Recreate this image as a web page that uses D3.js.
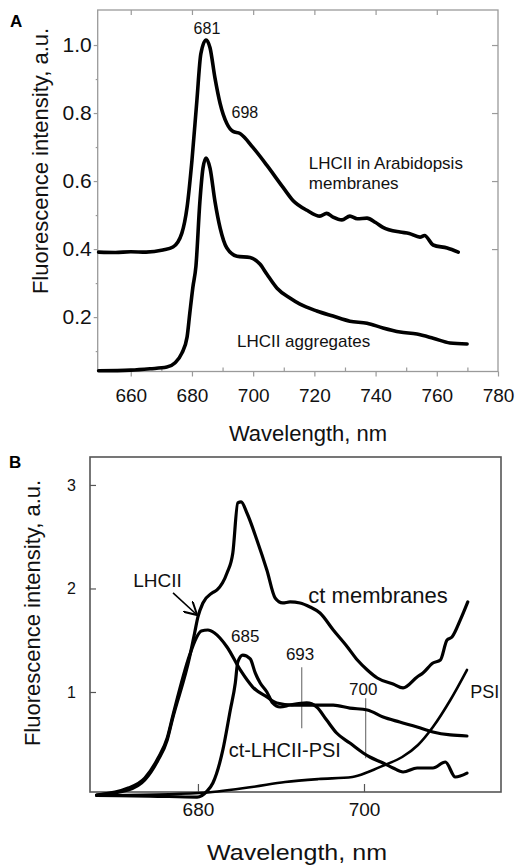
<!DOCTYPE html>
<html>
<head>
<meta charset="utf-8">
<script src="https://cdn.jsdelivr.net/npm/d3@7/dist/d3.min.js"></script>
<style>
  body { margin: 0; background: #fff; }
  svg { display: block; font-family: Arial, "Liberation Sans", sans-serif; }
  .frame { fill: none; }
  .curve { fill: none; stroke: #000; stroke-linejoin: round; stroke-linecap: round; }
  .axis path.domain { display: none; }
</style>
</head>
<body>
<div id="chart"></div>
<script>
// panel A: LHCII fluorescence, [wavelength nm, intensity]
var lhciiMembranes = [
  [649.5,0.391],[655,0.390],[660,0.392],[665,0.391],[670.5,0.397],[673.8,0.406],[676.7,0.447],
  [678.4,0.523],[680.0,0.661],[681.6,0.836],[682.9,0.974],[684.6,1.015],[685.9,0.992],
  [687.5,0.904],[689.2,0.828],[691.4,0.769],[693.4,0.746],[695.7,0.740],[699.9,0.699],
  [704.5,0.646],[709.7,0.582],[713.0,0.543],[717.6,0.514],[721.8,0.497],[724,0.505],[726.1,0.494],
  [729,0.486],[731.6,0.497],[734,0.489],[737.2,0.491],[740,0.478],[742.4,0.464],[748.0,0.450],
  [751,0.446],[754.5,0.435],[756,0.440],[758.8,0.412],[763.4,0.403],[767.0,0.391]
];
var lhciiAggregates = [
  [649.5,0.042],[660,0.044],[666.3,0.048],[671.8,0.053],[674.4,0.065],[676.7,0.094],[678.4,0.141],
  [679.3,0.212],[680.3,0.288],[681.3,0.350],[682.6,0.541],[683.6,0.638],[684.6,0.668],
  [685.9,0.638],[687.5,0.541],[689.2,0.462],[691.4,0.403],[694.7,0.379],[699.0,0.375],
  [702.2,0.356],[704.5,0.326],[707.8,0.285],[712.0,0.256],[715.3,0.238],[720.8,0.218],
  [726.1,0.203],[731.6,0.188],[737.2,0.182],[742.4,0.168],[748.0,0.156],[753.5,0.150],
  [758.8,0.138],[764.3,0.124],[769.9,0.121]
];
var aXTicks = [660, 680, 700, 720, 740, 760, 780];
var aXMinor = [670, 690, 710, 730, 750, 770];
var aYTicks = [0.2, 0.4, 0.6, 0.8, 1.0];
var aYMinor = [0.1, 0.3, 0.5, 0.7, 0.9];

// panel B: chloroplast spectra
var ctMembranes = [
  [667.8,0.005],[671.6,0.053],[673.6,0.150],[675.2,0.343],[676.3,0.536],[676.9,0.729],
  [679.0,1.338],[679.6,1.570],[680.0,1.725],[680.6,1.860],[681.7,1.957],[682.3,1.986],
  [683.5,2.150],[684.2,2.343],[684.8,2.826],[685.2,2.836],[685.9,2.729],[687.1,2.469],
  [688.3,2.179],[689.3,1.908],[690.2,1.860],[691.1,1.870],[692.3,1.860],[693.5,1.821],
  [694.7,1.763],[696.3,1.599],[698.0,1.435],[699.2,1.309],[700.4,1.213],[701.6,1.135],
  [703.5,1.077],[704.7,1.039],[706.4,1.145],[707.1,1.184],[708.3,1.280],[709.2,1.309],
  [710.0,1.502],[710.6,1.531],[711.6,1.696],[712.5,1.870]
];
var lhcii = [
  [667.8,0.005],[671.6,0.072],[673.6,0.169],[675.2,0.362],[676.3,0.556],[677.0,0.778],
  [679.0,1.357],[679.8,1.522],[680.4,1.589],[681.2,1.599],[682.0,1.570],[683.5,1.435],
  [685.1,1.213],[686.6,1.048],[688.3,0.952],[689.5,0.894],[691.4,0.874],[694.7,0.874],
  [696.3,0.874],[698.3,0.845],[700.4,0.826],[702.3,0.758],[704.3,0.710],[706.4,0.662],
  [708.3,0.614],[710.4,0.585],[712.4,0.575]
];
var ctLhciiPsi = [
  [667.8,0.0],[674.2,-0.005],[679.9,-0.015],[681.1,0.043],[681.8,0.121],[683.0,0.440],
  [683.9,0.826],[684.5,1.087],[684.8,1.290],[685.4,1.357],[686.3,1.319],[686.9,1.184],
  [687.5,1.087],[688.3,1.000],[689.0,0.894],[689.9,0.855],[691.1,0.874],[693.1,0.894],
  [694.3,0.855],[695.5,0.729],[696.7,0.604],[698.3,0.507],[699.9,0.411],[700.7,0.372],
  [702.3,0.314],[703.5,0.266],[704.7,0.227],[706.4,0.266],[708.3,0.266],[709.8,0.324],
  [711.0,0.179],[712.4,0.217]
];
var psi = [
  [667.8,0.0],[680.2,0.024],[686.5,0.082],[690.5,0.130],[694.5,0.159],[698.6,0.179],
  [700.5,0.227],[702.5,0.295],[704.6,0.372],[706.5,0.488],[708.3,0.662],[710.4,0.923],
  [712.4,1.213]
];
var bXTicks = [680, 700];
var bYTicks = [1, 2, 3];
var bMarkers = [
  {wl: 692.5, lo: 0.65, hi: 1.24},
  {wl: 700.2, lo: 0.36, hi: 0.94}
];

var width = 521, height = 865;
var svg = d3.select('#chart').append('svg')
  .attr('width', width)
  .attr('height', height);

var line = function(x, y) {
  return d3.line()
    .curve(d3.curveMonotoneX)
    .x(function(d) { return x(d[0]); })
    .y(function(d) { return y(d[1]); });
};

// ---------- panel A ----------
var xA = d3.scaleLinear().domain([649.2, 780]).range([97.7, 498]);
var yA = d3.scaleLinear().domain([0.04, 1.103]).range([371.5, 10]);
var gA = svg.append('g');

gA.append('rect').attr('class', 'frame')
  .attr('x', xA.range()[0]).attr('y', yA.range()[1])
  .attr('width', xA.range()[1] - xA.range()[0])
  .attr('height', yA.range()[0] - yA.range()[1])
  .attr('stroke', '#9a9a9a').attr('stroke-width', 1.3);

function styleAxis(g, color) {
  g.selectAll('.tick line').attr('stroke', color).attr('stroke-width', 1.2);
  g.selectAll('.tick text').attr('fill', '#111');
}

// bottom: labelled major ticks crossing the frame, minor ticks inside
gA.append('g').attr('class', 'axis')
  .attr('transform', 'translate(0,' + yA.range()[0] + ')')
  .call(d3.axisBottom(xA).tickValues(aXTicks).tickSize(5).tickPadding(12))
  .call(function(g) {
    g.selectAll('text').attr('font-size', 19);
    styleAxis(g, '#9a9a9a');
  });
gA.append('g').attr('class', 'axis')
  .attr('transform', 'translate(0,' + yA.range()[0] + ')')
  .call(d3.axisBottom(xA).tickValues(aXMinor).tickSize(-4).tickFormat(''))
  .call(function(g) { styleAxis(g, '#9a9a9a'); });
gA.append('g').attr('class', 'axis')
  .attr('transform', 'translate(0,' + yA.range()[1] + ')')
  .call(d3.axisTop(xA).tickValues(aXTicks.slice(0, 6)).tickSize(-5).tickFormat(''))
  .call(function(g) { styleAxis(g, '#9a9a9a'); });

// left + right
gA.append('g').attr('class', 'axis')
  .attr('transform', 'translate(' + xA.range()[0] + ',0)')
  .call(d3.axisLeft(yA).tickValues(aYTicks).tickSize(4).tickPadding(2).tickFormat(d3.format('.1f')))
  .call(function(g) {
    g.selectAll('text').attr('font-size', 21);
    styleAxis(g, '#9a9a9a');
  });
gA.append('g').attr('class', 'axis')
  .attr('transform', 'translate(' + xA.range()[0] + ',0)')
  .call(d3.axisLeft(yA).tickValues(aYMinor).tickSize(2).tickFormat(''))
  .call(function(g) { styleAxis(g, '#9a9a9a'); });
gA.append('g').attr('class', 'axis')
  .attr('transform', 'translate(' + xA.range()[1] + ',0)')
  .call(d3.axisRight(yA).tickValues(aYTicks.slice(1)).tickSize(-6).tickFormat(''))
  .call(function(g) { styleAxis(g, '#9a9a9a'); });

gA.selectAll('path.curve')
  .data([lhciiMembranes, lhciiAggregates])
  .enter().append('path')
  .attr('class', 'curve')
  .attr('stroke-width', 3.6)
  .attr('d', line(xA, yA));

var textA = gA.append('g').attr('fill', '#111');
textA.append('text').attr('x', xA(684.9)).attr('y', yA(1.032))
  .attr('text-anchor', 'middle').attr('font-size', 16).text('681');
textA.append('text').attr('x', xA(697.3)).attr('y', yA(0.785))
  .attr('text-anchor', 'middle').attr('font-size', 16).text('698');
var memb = textA.append('text').attr('x', xA(718.2)).attr('y', yA(0.635)).attr('font-size', 17);
memb.append('tspan').text('LHCII in Arabidopsis');
memb.append('tspan').attr('x', xA(718.2)).attr('dy', 20).text('membranes');
textA.append('text').attr('x', xA(694.7)).attr('y', yA(0.112))
  .attr('font-size', 17).text('LHCII aggregates');

svg.append('text').attr('x', 10).attr('y', 27)
  .attr('font-size', 17).attr('font-weight', 'bold').text('A');
svg.append('text').attr('x', 308).attr('y', 441)
  .attr('text-anchor', 'middle').attr('font-size', 22).attr('fill', '#111')
  .text('Wavelength, nm');
svg.append('text')
  .attr('transform', 'translate(48,161) rotate(-90)')
  .attr('text-anchor', 'middle').attr('font-size', 22).attr('fill', '#111')
  .text('Fluorescence intensity, a.u.');

// ---------- panel B ----------
var xB = d3.scaleLinear().domain([667.0, 716.5]).range([90, 501]);
var yB = d3.scaleLinear().domain([0.034, 3.27]).range([792, 457]);
var gB = svg.append('g');

gB.append('rect').attr('class', 'frame')
  .attr('x', xB.range()[0]).attr('y', yB.range()[1])
  .attr('width', xB.range()[1] - xB.range()[0])
  .attr('height', yB.range()[0] - yB.range()[1])
  .attr('stroke', '#555').attr('stroke-width', 1.6);

gB.append('g').attr('class', 'axis')
  .attr('transform', 'translate(0,' + yB.range()[0] + ')')
  .call(d3.axisBottom(xB).tickValues(bXTicks).tickSize(-8).tickPadding(11))
  .call(function(g) {
    g.selectAll('text').attr('font-size', 19);
    styleAxis(g, '#555');
  });
gB.append('g').attr('class', 'axis')
  .attr('transform', 'translate(' + xB.range()[0] + ',0)')
  .call(d3.axisLeft(yB).tickValues(bYTicks).tickSize(-6).tickPadding(14).tickFormat(d3.format('d')))
  .call(function(g) {
    g.selectAll('text').attr('font-size', 16);
    styleAxis(g, '#555');
  });

gB.selectAll('line.marker')
  .data(bMarkers)
  .enter().append('line')
  .attr('class', 'marker')
  .attr('x1', function(d) { return xB(d.wl); })
  .attr('x2', function(d) { return xB(d.wl); })
  .attr('y1', function(d) { return yB(d.hi); })
  .attr('y2', function(d) { return yB(d.lo); })
  .attr('stroke', '#777').attr('stroke-width', 1.2);

gB.selectAll('path.curve')
  .data([psi, ctLhciiPsi, lhcii, ctMembranes])
  .enter().append('path')
  .attr('class', 'curve')
  .attr('stroke-width', function(d) { return d === psi ? 2.6 : 3.2; })
  .attr('d', line(xB, yB));

svg.append('defs').append('marker')
  .attr('id', 'arrow')
  .attr('viewBox', '0 0 10 10')
  .attr('refX', 9).attr('refY', 5)
  .attr('markerWidth', 9).attr('markerHeight', 9)
  .attr('orient', 'auto')
  .append('path')
  .attr('d', 'M0,0 L9,5 L0,10')
  .attr('fill', 'none').attr('stroke', '#000').attr('stroke-width', 1.4);

gB.append('line')
  .attr('x1', xB(677.0)).attr('y1', yB(1.957))
  .attr('x2', xB(679.9)).attr('y2', yB(1.744))
  .attr('stroke', '#000').attr('stroke-width', 1.6)
  .attr('marker-end', 'url(#arrow)');

var textB = gB.append('g').attr('fill', '#111');
textB.append('text').attr('x', xB(672.2)).attr('y', yB(2.015)).attr('font-size', 19).text('LHCII');
textB.append('text').attr('x', xB(693.3)).attr('y', yB(1.860)).attr('font-size', 22).text('ct membranes');
textB.append('text').attr('x', xB(685.7)).attr('y', yB(1.483))
  .attr('text-anchor', 'middle').attr('font-size', 17).text('685');
textB.append('text').attr('x', xB(692.3)).attr('y', yB(1.309))
  .attr('text-anchor', 'middle').attr('font-size', 17).text('693');
textB.append('text').attr('x', xB(699.9)).attr('y', yB(0.971))
  .attr('text-anchor', 'middle').attr('font-size', 17).text('700');
textB.append('text').attr('x', xB(683.7)).attr('y', yB(0.372)).attr('font-size', 20).text('ct-LHCII-PSI');
textB.append('text').attr('x', xB(712.8)).attr('y', yB(0.942)).attr('font-size', 18).text('PSI');

svg.append('text').attr('x', 9).attr('y', 468)
  .attr('font-size', 17).attr('font-weight', 'bold').text('B');
svg.append('text').attr('x', 297).attr('y', 860)
  .attr('text-anchor', 'middle').attr('font-size', 22).attr('fill', '#111')
  .attr('textLength', 180).attr('lengthAdjust', 'spacingAndGlyphs')
  .text('Wavelength, nm');
svg.append('text')
  .attr('transform', 'translate(40,613) rotate(-90)')
  .attr('text-anchor', 'middle').attr('font-size', 22).attr('fill', '#111')
  .text('Fluorescence intensity, a.u.');
</script>
</body>
</html>
